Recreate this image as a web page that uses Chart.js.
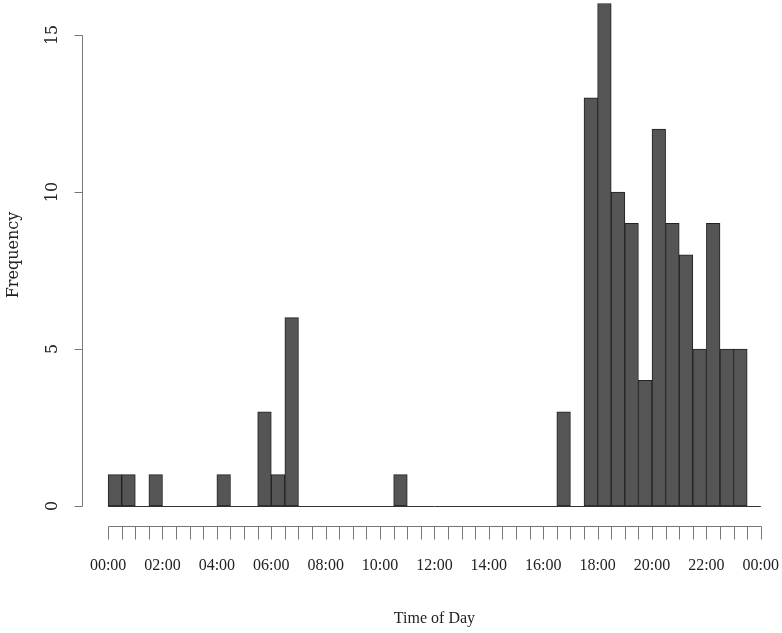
<!DOCTYPE html>
<html>
<head>
<meta charset="utf-8">
<script src="https://cdn.jsdelivr.net/npm/chart.js@4/dist/chart.umd.min.js"></script>
<style>
  html, body { margin: 0; padding: 0; background: #fff; }
  canvas { display: block; }
</style>
</head>
<body>
<canvas id="histChart" width="782" height="633"></canvas>
<script>
// 30-minute bins, start time of each bin
const binLabels = [
  '00:00','00:30','01:00','01:30','02:00','02:30','03:00','03:30',
  '04:00','04:30','05:00','05:30','06:00','06:30','07:00','07:30',
  '08:00','08:30','09:00','09:30','10:00','10:30','11:00','11:30',
  '12:00','12:30','13:00','13:30','14:00','14:30','15:00','15:30',
  '16:00','16:30','17:00','17:30','18:00','18:30','19:00','19:30',
  '20:00','20:30','21:00','21:30','22:00','22:30','23:00','23:30'
];
const counts = [
  1, 1, 0, 1, 0, 0, 0, 0,
  1, 0, 0, 3, 1, 6, 0, 0,
  0, 0, 0, 0, 0, 1, 0, 0,
  0, 0, 0, 0, 0, 0, 0, 0,
  0, 3, 0, 13, 16, 10, 9, 4,
  12, 9, 8, 5, 9, 5, 5, 0
];
const xTickLabels = ['00:00','02:00','04:00','06:00','08:00','10:00','12:00','14:00','16:00','18:00','20:00','22:00','00:00'];
const xTickHours = [0, 2, 4, 6, 8, 10, 12, 14, 16, 18, 20, 22, 24];
const yTicks = [0, 5, 10, 15];
const binHours = 0.5;

function toHours(label) {
  const parts = label.split(':');
  return Number(parts[0]) + Number(parts[1]) / 60;
}

// R-style axes drawn from the chart scales
const rAxes = {
  id: 'rAxes',
  afterDatasetsDraw(chart) {
    const ctx = chart.ctx;
    const xs = chart.scales.x;
    const ys = chart.scales.y;
    const area = chart.chartArea;
    const px = v => Math.round(v) + 0.5;

    ctx.save();
    // baseline of the histogram
    ctx.strokeStyle = '#333';
    ctx.lineWidth = 1;
    ctx.beginPath();
    ctx.moveTo(xs.getPixelForValue(0), px(ys.getPixelForValue(0)));
    ctx.lineTo(xs.getPixelForValue(24), px(ys.getPixelForValue(0)));
    ctx.stroke();

    ctx.strokeStyle = '#777';
    // x axis
    const yAxis = px(area.bottom);
    ctx.beginPath();
    ctx.moveTo(px(xs.getPixelForValue(0)), yAxis);
    ctx.lineTo(px(xs.getPixelForValue(24)), yAxis);
    const edges = binLabels.map(toHours).concat([24]);
    edges.forEach(h => {
      const x = px(xs.getPixelForValue(h));
      ctx.moveTo(x, yAxis);
      ctx.lineTo(x, yAxis + 13);
    });
    // y axis
    const xAxis = px(area.left);
    ctx.moveTo(xAxis, px(ys.getPixelForValue(0)));
    ctx.lineTo(xAxis, px(ys.getPixelForValue(15)));
    yTicks.forEach(v => {
      const y = px(ys.getPixelForValue(v));
      ctx.moveTo(xAxis, y);
      ctx.lineTo(xAxis - 8, y);
    });
    ctx.stroke();

    ctx.fillStyle = '#222';
    ctx.font = '16px "Liberation Serif"';
    ctx.textAlign = 'center';
    ctx.textBaseline = 'middle';
    xTickHours.forEach((h, i) => {
      ctx.fillText(xTickLabels[i], xs.getPixelForValue(h), 566);
    });
    ctx.fillText('Time of Day', xs.getPixelForValue(12), 619);

    ctx.font = '16px "DejaVu Serif"';
    yTicks.forEach(v => {
      ctx.save();
      ctx.translate(53, ys.getPixelForValue(v));
      ctx.rotate(-Math.PI / 2);
      ctx.fillText(String(v), 0, 0);
      ctx.restore();
    });
    ctx.save();
    ctx.translate(14, 255);
    ctx.rotate(-Math.PI / 2);
    ctx.fillText('Frequency', 0, 0);
    ctx.restore();
    ctx.restore();
  }
};

const ctx = document.getElementById('histChart').getContext('2d');
new Chart(ctx, {
  type: 'bar',
  data: {
    datasets: [{
      label: 'Frequency',
      data: binLabels.map((l, i) => ({ x: toHours(l) + binHours / 2, y: counts[i] })),
      backgroundColor: '#555555',
      borderColor: '#222222',
      borderWidth: 1,
      borderSkipped: false,
      barPercentage: 1,
      categoryPercentage: 1
    }]
  },
  options: {
    responsive: false,
    animation: false,
    devicePixelRatio: 1,
    layout: { padding: { left: 82, right: 0, top: 1, bottom: 107.5 } },
    plugins: {
      legend: { display: false },
      tooltip: { enabled: false }
    },
    scales: {
      x: { type: 'linear', min: -0.96, max: 24.78, offset: false, display: false },
      y: { min: -0.62, max: 16.08, display: false }
    }
  },
  plugins: [rAxes]
});
</script>
</body>
</html>
